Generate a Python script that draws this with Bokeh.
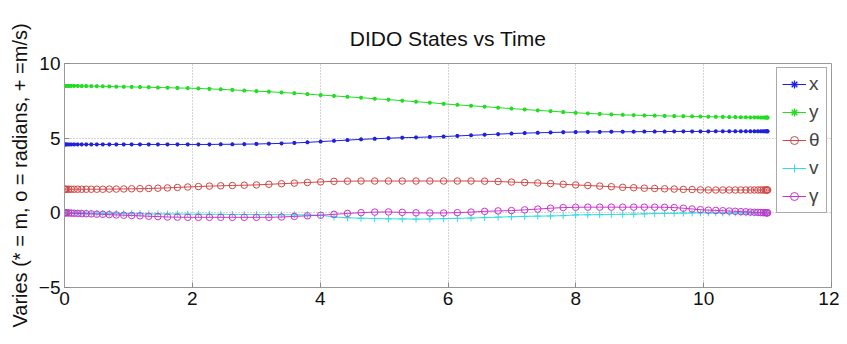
from bokeh.plotting import figure
from bokeh.models import (FixedTicker, Range1d, Legend, LegendItem, ColumnDataSource, Title)
from bokeh.embed import file_html
from bokeh.resources import INLINE

# ---- data ----
time = [0.0, 0.0042, 0.0169, 0.0381, 0.0677, 0.1057, 0.1520, 0.2065, 0.2692, 0.3400,
        0.4187, 0.5052, 0.5994, 0.7013, 0.8105, 0.9269, 1.0504, 1.1807, 1.3177, 1.4612,
        1.6109, 1.7666, 1.9280, 2.0950, 2.2672, 2.4444, 2.6263, 2.8126, 3.0030, 3.1974,
        3.3953, 3.5963, 3.8004, 4.0071, 4.2160, 4.4270, 4.6396, 4.8535, 5.0685, 5.2841,
        5.5, 5.7159, 5.9315, 6.1465, 6.3604, 6.5730, 6.7840, 6.9929, 7.1996, 7.4037,
        7.6047, 7.8026, 7.9970, 8.1874, 8.3737, 8.5556, 8.7328, 8.9050, 9.0720, 9.2334,
        9.3891, 9.5388, 9.6823, 9.8193, 9.9496, 10.0731, 10.1895, 10.2987, 10.4006, 10.4948,
        10.5813, 10.6600, 10.7308, 10.7935, 10.8480, 10.8943, 10.9323, 10.9619, 10.9831, 10.9958,
        11.0]

x_pos = [4.58, 4.58, 4.58, 4.58, 4.58, 4.58, 4.58, 4.58, 4.58, 4.58,
         4.58, 4.58, 4.58, 4.58, 4.58, 4.58, 4.58, 4.58, 4.58, 4.58,
         4.58, 4.58, 4.58, 4.58, 4.58, 4.59, 4.59, 4.60, 4.61, 4.63,
         4.65, 4.68, 4.72, 4.77, 4.82, 4.87, 4.92, 4.96, 5.00, 5.03,
         5.05, 5.08, 5.11, 5.15, 5.19, 5.23, 5.27, 5.31, 5.34, 5.36,
         5.38, 5.40, 5.41, 5.42, 5.42, 5.43, 5.43, 5.43, 5.44, 5.44,
         5.44, 5.45, 5.45, 5.45, 5.45, 5.45, 5.46, 5.46, 5.46, 5.46,
         5.46, 5.46, 5.46, 5.46, 5.46, 5.46, 5.46, 5.46, 5.46, 5.46,
         5.46]

y_pos = [8.50, 8.50, 8.50, 8.50, 8.50, 8.50, 8.50, 8.50, 8.49, 8.49,
         8.48, 8.48, 8.47, 8.46, 8.45, 8.44, 8.43, 8.42, 8.41, 8.39,
         8.38, 8.36, 8.35, 8.33, 8.30, 8.27, 8.23, 8.19, 8.15, 8.11,
         8.06, 8.01, 7.95, 7.89, 7.83, 7.77, 7.71, 7.64, 7.58, 7.51,
         7.44, 7.38, 7.30, 7.23, 7.17, 7.11, 7.04, 6.98, 6.92, 6.86,
         6.81, 6.75, 6.70, 6.66, 6.62, 6.59, 6.56, 6.54, 6.52, 6.51,
         6.49, 6.48, 6.47, 6.46, 6.45, 6.44, 6.43, 6.42, 6.41, 6.41,
         6.40, 6.40, 6.39, 6.39, 6.39, 6.38, 6.38, 6.38, 6.38, 6.38,
         6.38]

theta = [1.58, 1.58, 1.58, 1.58, 1.58, 1.58, 1.58, 1.58, 1.58, 1.58,
         1.58, 1.58, 1.58, 1.59, 1.59, 1.60, 1.61, 1.62, 1.63, 1.65,
         1.67, 1.70, 1.73, 1.76, 1.79, 1.81, 1.83, 1.85, 1.87, 1.91,
         1.95, 1.99, 2.03, 2.07, 2.11, 2.12, 2.13, 2.13, 2.13, 2.13,
         2.13, 2.13, 2.13, 2.13, 2.13, 2.12, 2.10, 2.06, 2.03, 2.00,
         1.96, 1.91, 1.87, 1.83, 1.79, 1.75, 1.71, 1.68, 1.65, 1.63,
         1.61, 1.59, 1.57, 1.56, 1.54, 1.53, 1.53, 1.53, 1.53, 1.53,
         1.53, 1.53, 1.53, 1.53, 1.53, 1.53, 1.53, 1.53, 1.53, 1.53,
         1.53]

speed = [0.00, 0.00, 0.00, 0.00, 0.00, 0.00, 0.00, -0.01, -0.02, -0.02,
         -0.03, -0.03, -0.04, -0.04, -0.05, -0.05, -0.06, -0.06, -0.07, -0.07,
         -0.08, -0.08, -0.09, -0.09, -0.10, -0.10, -0.11, -0.11, -0.12, -0.12,
         -0.13, -0.13, -0.14, -0.16, -0.28, -0.33, -0.36, -0.38, -0.40, -0.41,
         -0.42, -0.41, -0.39, -0.37, -0.35, -0.32, -0.29, -0.26, -0.24, -0.22,
         -0.21, -0.19, -0.14, -0.13, -0.12, -0.11, -0.10, -0.09, -0.07, -0.05,
         -0.04, -0.03, -0.02, -0.01, 0.00, 0.00, 0.00, 0.00, 0.00, 0.00,
         0.00, 0.00, 0.00, 0.00, 0.00, 0.00, 0.00, 0.00, 0.00, 0.00,
         0.00]

gamma = [0.00, 0.00, 0.00, 0.00, -0.01, -0.02, -0.03, -0.04, -0.05, -0.06,
         -0.07, -0.09, -0.10, -0.12, -0.14, -0.16, -0.18, -0.20, -0.23, -0.25,
         -0.28, -0.29, -0.30, -0.30, -0.30, -0.30, -0.30, -0.30, -0.30, -0.30,
         -0.28, -0.24, -0.20, -0.16, -0.10, -0.04, 0.01, 0.05, 0.06, 0.03,
         0.00, -0.01, -0.01, 0.01, 0.05, 0.10, 0.13, 0.15, 0.20, 0.25,
         0.31, 0.35, 0.37, 0.38, 0.38, 0.38, 0.38, 0.38, 0.38, 0.38,
         0.37, 0.35, 0.31, 0.26, 0.21, 0.18, 0.16, 0.14, 0.12, 0.10,
         0.08, 0.07, 0.05, 0.04, 0.03, 0.02, 0.01, 0.01, 0.00, 0.00,
         0.00]

x_ticks = [0, 2, 4, 6, 8, 10, 12]
y_ticks = [-5, 0, 5, 10]
legend_labels = ["x", "y", "\u03b8", "v", "\u03b3"]
title_text = "DIDO States vs Time"

FONT = "Liberation Sans"

p = figure(width=839, height=340, output_backend="svg", toolbar_location=None,
           x_range=Range1d(0, 12), y_range=Range1d(-5, 10),
           min_border_left=64, min_border_right=8, min_border_top=63, min_border_bottom=53)

p.title = Title(text=title_text, align="center", text_font=FONT,
                text_font_size="21px", text_font_style="normal", text_color="#111111",
                vertical_align="middle", standoff=0)
# blank spacer panel between title and plot frame
p.add_layout(Title(text=" ", text_font_size="10px", standoff=0), "above")

src = ColumnDataSource(dict(t=time, x=x_pos, y=y_pos, th=theta, v=speed, g=gamma))

series = [
    ("x", "#2020dd", "asterisk"),
    ("y", "#22dd22", "asterisk"),
    ("th", "#d04848", "circle"),
    ("v", "#33dddd", "cross"),
    ("g", "#cc33cc", "circle"),
]

items = []
for (col, color, marker), lab in zip(series, legend_labels):
    r1 = p.line("t", col, source=src, line_color=color, line_width=1)
    if marker == "circle":
        r2 = p.scatter("t", col, source=src, marker="circle", size=6.5, fill_color=None,
                       line_color=color, line_width=1)
    elif marker == "cross":
        r2 = p.scatter("t", col, source=src, marker="cross", size=7,
                       line_color=color, line_width=1)
    else:
        r2 = p.scatter("t", col, source=src, marker="asterisk", size=4,
                       line_color=color, line_width=1.3)
    items.append(LegendItem(label=lab, renderers=[r1, r2]))

legend = Legend(items=items, location="top_right", margin=4,
                label_text_font=FONT, label_text_font_size="19px",
                label_height=20, label_width=12, glyph_height=20, glyph_width=24, spacing=6,
                padding=5, label_standoff=3,
                border_line_color="#555555", border_line_width=1,
                background_fill_color="white", background_fill_alpha=1)
p.add_layout(legend, "center")

for ax in (p.xaxis[0], p.yaxis[0]):
    ax.major_label_text_font = FONT
    ax.major_label_text_font_size = "19px"
    ax.major_label_text_color = "#111111"
    ax.major_tick_in = 5
    ax.major_tick_out = 0
    ax.minor_tick_line_color = None
    ax.axis_line_color = "#999999"
    ax.major_tick_line_color = "#888888"

p.xaxis[0].ticker = FixedTicker(ticks=x_ticks)
p.yaxis[0].ticker = FixedTicker(ticks=y_ticks)
p.xaxis[0].major_label_standoff = 4
p.yaxis[0].major_label_standoff = 4
p.yaxis[0].axis_label = "Varies (* = m, o = radians, + =m/s)"
p.yaxis[0].axis_label_text_font = FONT
p.yaxis[0].axis_label_text_font_size = "20px"
p.yaxis[0].axis_label_text_font_style = "normal"
p.yaxis[0].axis_label_text_color = "#111111"
p.yaxis[0].axis_label_standoff = 5

p.xgrid.ticker = FixedTicker(ticks=x_ticks)
p.ygrid.ticker = FixedTicker(ticks=y_ticks)
for g in (p.xgrid[0], p.ygrid[0]):
    g.grid_line_color = "#aaaaaa"
    g.grid_line_dash = "1 2"
    g.grid_line_width = 1

p.outline_line_color = "#999999"
p.outline_line_width = 1

file = open("out.html", "w")
file.write(file_html(p, INLINE))
file.close()
